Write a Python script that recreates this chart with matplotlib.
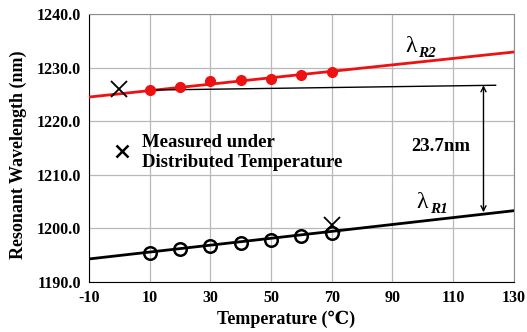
import numpy as np
import matplotlib.pyplot as plt

plt.rcParams['font.family'] = ['Liberation Serif', 'DejaVu Serif']
plt.rcParams['axes.unicode_minus'] = False

# measured resonant wavelengths (nm) vs temperature (C)
temp = [10, 20, 30, 40, 50, 60, 70]
lam_r2 = [1225.8, 1226.3, 1227.4, 1227.7, 1227.9, 1228.6, 1229.2]
lam_r1 = [1195.5, 1196.2, 1196.8, 1197.3, 1197.8, 1198.6, 1199.2]

# linear fits extended over the full range
fit_x = [-10, 130]
fit_r2 = [1224.5, 1232.9]
fit_r1 = [1194.3, 1203.3]

# reference line at the R2 level from the 10 C point
ref_x = [10, 124]
ref_y = [1225.8, 1226.7]

# measurements under a distributed temperature profile
dist_x = [0, 70]
dist_y = [1226.0, 1200.6]

gap_x = 120
gap_top = 1226.7
gap_bottom = 1203.0

fig = plt.figure(figsize=(5.27, 3.32), dpi=100)
ax = fig.add_axes([0.169, 0.1506, 0.806, 0.8074])

ax.plot(fit_x, fit_r2, color='#ee1111', lw=2, zorder=3)
ax.plot(temp, lam_r2, 'o', color='#ee1111', ms=7, zorder=4)
ax.plot(ref_x, ref_y, color='black', lw=1, zorder=3)

ax.plot(fit_x, fit_r1, color='black', lw=2, zorder=3)
ax.plot(temp, lam_r1, 'o', mfc='none', mec='black', mew=1.8, ms=9, zorder=4)

ax.plot(dist_x, dist_y, 'x', color='black', ms=11, mew=1.3, zorder=5)

ax.annotate('', xy=(gap_x, gap_top), xytext=(gap_x, gap_bottom),
            arrowprops=dict(arrowstyle='<->', color='black', lw=1,
                            shrinkA=0, shrinkB=0, mutation_scale=9))
ax.text(106, 1215.2, '23.7nm', fontsize=13.5, fontweight='bold',
        ha='center', va='center')


def lam_label(x, y, sub):
    ax.text(x, y, 'λ', fontsize=17, ha='left', va='baseline')
    ax.annotate(sub, xy=(x, y), xytext=(9.5, -3.5), textcoords='offset points',
                fontsize=11, fontstyle='italic', fontweight='bold',
                ha='left', va='baseline')


lam_label(94.1, 1232.9, 'R2')
lam_label(98.0, 1203.8, 'R1')

# legend entry drawn by hand
ax.plot([1], [1214.4], 'x', color='black', ms=8, mew=1.8)
ax.text(7.5, 1214.2, 'Measured under\nDistributed Temperature', fontsize=13.5,
        fontweight='bold', ha='left', va='center', linespacing=1.2)

ax.set_xlim(-10, 130)
ax.set_ylim(1190, 1240)
ax.set_xticks(np.arange(-10, 131, 20))
ax.set_yticks(np.arange(1190, 1241, 10))
ax.set_yticklabels([f'{v:.1f}' for v in np.arange(1190, 1241, 10)])
ax.grid(True, color='#b8b8b8', lw=0.9)
ax.set_axisbelow(True)
for s in ax.spines.values():
    s.set_color('#8c8c8c')
ax.spines['left'].set_color('black')
ax.spines['bottom'].set_color('black')
ax.tick_params(length=0, labelsize=11.5, pad=6)
for lbl in ax.get_xticklabels() + ax.get_yticklabels():
    lbl.set_fontweight('bold')

ax.set_xlabel('Temperature (℃)', fontsize=13, fontweight='bold')
ax.xaxis.set_label_coords(0.464, -0.106)
ax.xaxis.label.set_va('top')
ax.set_ylabel('Resonant Wavelength (nm)', fontsize=13, fontweight='bold')
ax.yaxis.set_label_coords(-0.145, 0.474)

fig.savefig('out.png', dpi=100)
